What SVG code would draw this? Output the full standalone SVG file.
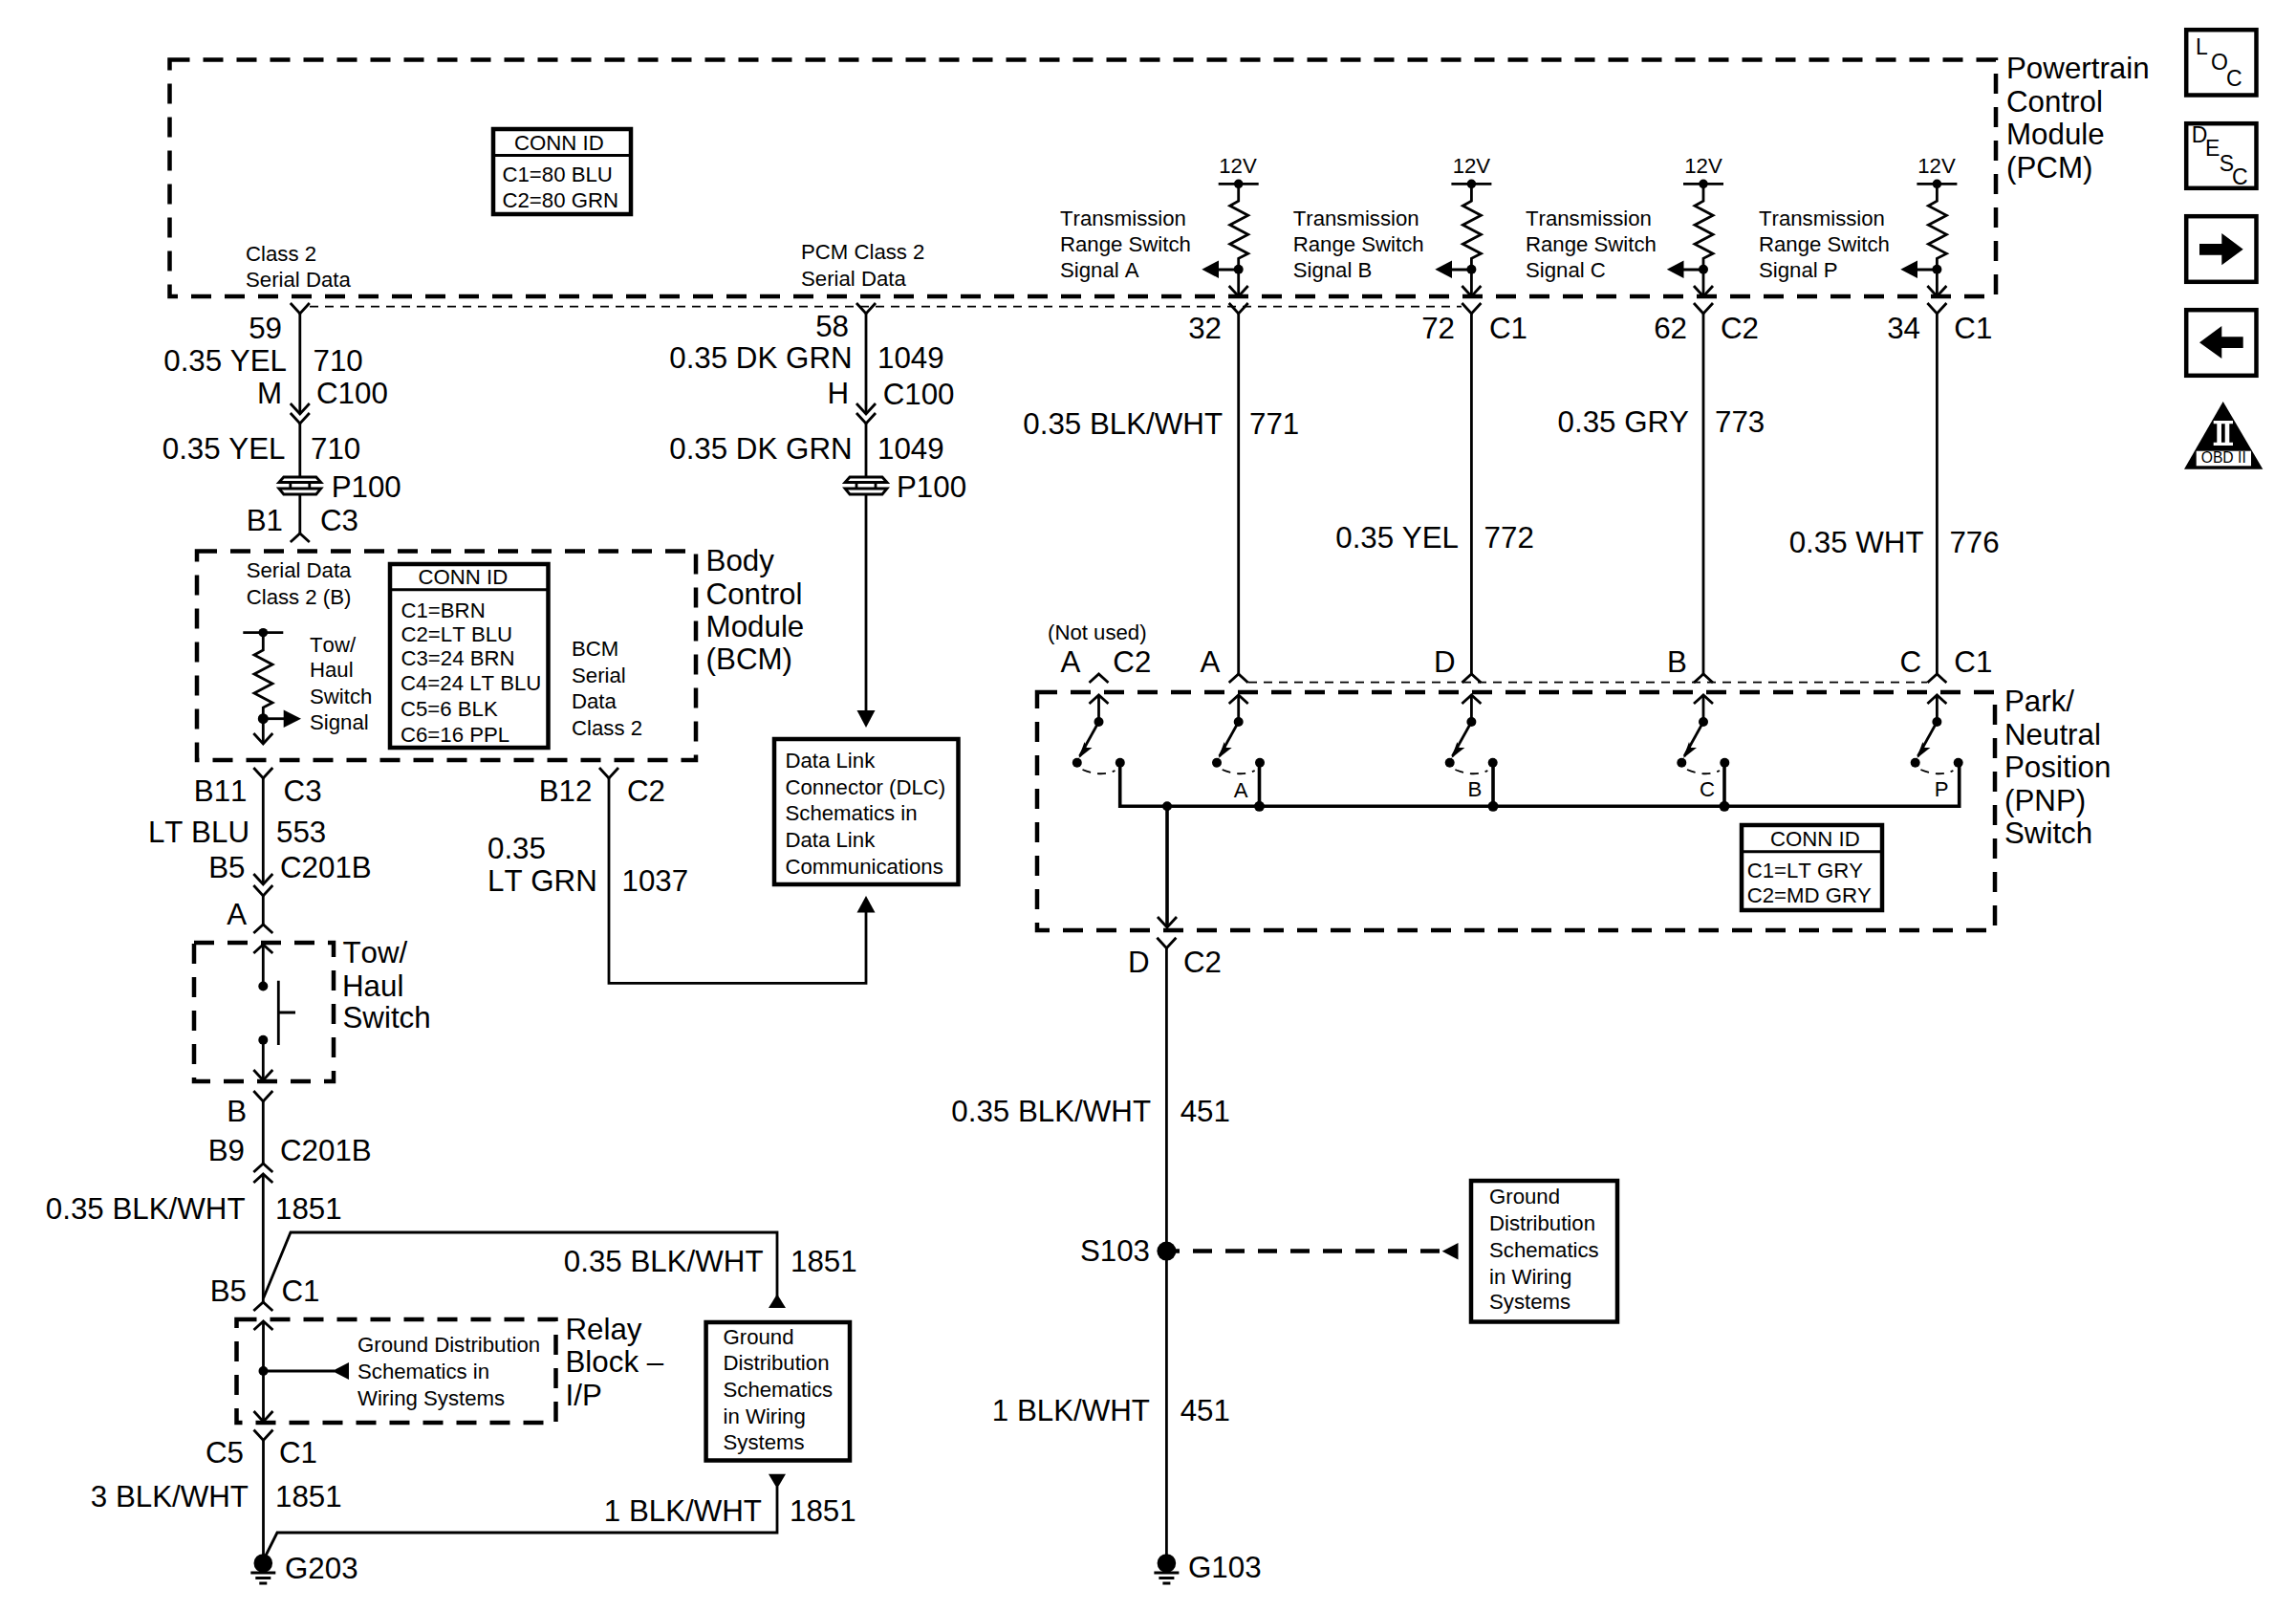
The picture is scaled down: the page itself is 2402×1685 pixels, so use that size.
<svg xmlns="http://www.w3.org/2000/svg" xmlns:xlink="http://www.w3.org/1999/xlink" width="2402" height="1685" viewBox="0 0 2402 1685">
<style>
text{font-family:"Liberation Sans",Arial,sans-serif;fill:#000;font-kerning:none}
.s{font-size:22.2px}
.l{font-size:31.3px}
.e{text-anchor:end}
.m{text-anchor:middle}
.mod{fill:none;stroke:#000;stroke-width:4.5;stroke-dasharray:21 14}
.box{fill:#fff;stroke:#000;stroke-width:4.5}
.sep{fill:none;stroke:#000;stroke-width:3}
.w{fill:none;stroke:#000;stroke-width:2.8;stroke-linejoin:miter}
.b{fill:none;stroke:#000;stroke-width:3.6}
.d{fill:none;stroke:#000;stroke-width:1.8;stroke-dasharray:9 7}
.a{fill:#000;stroke:none}
</style>
<defs>
<path id="v" class="w" d="M-10 -11 L0 0 L10 -11"/>
<path id="u" class="w" d="M-10 9 L0 0 L10 9"/>
<path id="zig" class="w" d="M0 0 V18 L-9 23 L10 33 L-9 43 L10 53 L-9 63 L10 73 L0 78 V90"/>
<g id="rail"><path class="w" d="M-21 0 H21"/><circle class="a" r="4.8"/></g>
<g id="p100"><path class="w" d="M-17 0 H17 L22 5.5 H-22 Z"/><path class="w" d="M-22 12 H22 L17 18 H-17 Z"/><path class="w" d="M-10 6 V12 M10 6 V12"/></g>
<g id="gnd"><circle class="a" r="9.8"/><path class="w" stroke-width="2" d="M-13 10 H13 M-8 15.5 H8 M-4 21 H4"/></g>
<g id="sw">
<circle class="a" cy="0" r="5"/>
<path class="w" d="M0 0 L-20 36"/>
<path class="a" d="M-21 38 L-15 21 L-13 27 L-7 27 Z"/>
<circle class="a" cx="-22.7" cy="42.7" r="5"/>
<circle class="a" cx="22.3" cy="42.7" r="5"/>
<path class="d" stroke-width="1.6" stroke-dasharray="6 5" d="M-17 50 Q2 58 17 51"/>
</g>
</defs>

<g id="connectors">
<path class="w" d="M313.8 328 V433"/><use xlink:href="#v" x="313.8" y="328"/><use xlink:href="#v" x="313.8" y="433"/><use xlink:href="#v" x="313.8" y="443"/>
<path class="w" d="M313.8 443 V499 M313.8 517 V558"/><use xlink:href="#u" x="313.8" y="558"/>
<path class="w" d="M906 328 V433"/><use xlink:href="#v" x="906" y="328"/><use xlink:href="#v" x="906" y="433"/><use xlink:href="#v" x="906" y="443"/>
<path class="w" d="M906 443 V499 M906 517 V745"/>
<path class="a" d="M896.5 743 H915.5 L906 761 Z"/>
<path class="d" d="M324 320.7 H1529"/>
<path class="d" d="M1306 713.6 H2016"/>
<path class="w" d="M1295.7 328 V705"/><use xlink:href="#v" x="1295.7" y="328"/><use xlink:href="#u" x="1295.7" y="705"/>
<path class="w" d="M1539.4 328 V705"/><use xlink:href="#v" x="1539.4" y="328"/><use xlink:href="#u" x="1539.4" y="705"/>
<path class="w" d="M1782 328 V705"/><use xlink:href="#v" x="1782" y="328"/><use xlink:href="#u" x="1782" y="705"/>
<path class="w" d="M2026.4 328 V705"/><use xlink:href="#v" x="2026.4" y="328"/><use xlink:href="#u" x="2026.4" y="705"/>
<use xlink:href="#u" x="1149.5" y="705"/>
<path class="w" d="M275.3 814 V925"/><use xlink:href="#v" x="275.3" y="814"/><use xlink:href="#v" x="275.3" y="925"/><use xlink:href="#v" x="275.3" y="937"/>
<path class="w" d="M275.3 937 V967"/><use xlink:href="#u" x="275.3" y="967"/>
<path class="w" d="M637 814 V1028.4 H906 V952"/><use xlink:href="#v" x="637" y="814"/>
<path class="a" d="M896.5 954.5 H915.5 L906 937 Z"/>
<path class="w" d="M275.3 1152 V1217"/><use xlink:href="#v" x="275.3" y="1152"/><use xlink:href="#u" x="275.3" y="1217"/><use xlink:href="#u" x="275.3" y="1228"/>
<path class="w" d="M275.3 1228 V1362"/><use xlink:href="#u" x="275.3" y="1362"/>
<path class="w" d="M275.5 1358 L304 1289 H813 V1356"/>
<path class="a" d="M804 1368 H822 L813 1353.5 Z"/>
<path class="w" d="M275.5 1506.5 V1630"/><use xlink:href="#v" x="275.5" y="1506.5"/>
<path class="w" d="M813 1555 V1603 H290 L276 1631"/>
<path class="a" d="M804 1541.7 H822 L813 1557 Z"/>
<path class="w" d="M1220.4 991.7 V1630"/><use xlink:href="#v" x="1220.4" y="991.7"/>
<path d="M1220 1308.6 H1234 M1248 1308.6 H1508" fill="none" stroke="#000" stroke-width="4.5" stroke-dasharray="20 14"/>
<path class="a" d="M1525.5 1300 V1317.5 L1508.7 1308.7 Z"/>
</g>

<g id="pcm">
<rect class="mod" x="177.5" y="62.5" width="1910.5" height="247.5"/>
<text class="l" x="2099" y="82">Powertrain</text><text class="l" x="2099" y="116.5">Control</text><text class="l" x="2099" y="151">Module</text><text class="l" x="2099" y="185.5">(PCM)</text>
<text class="s" x="257" y="272.5">Class 2</text><text class="s" x="257" y="300.4">Serial Data</text>
<text class="s" x="838" y="271">PCM Class 2</text><text class="s" x="838" y="298.5">Serial Data</text>
<g id="pcm-signal-a"><use xlink:href="#rail" x="1295.7" y="192.3"/><use xlink:href="#zig" x="1295.7" y="192.3"/><text class="s m" x="1295" y="180.7">12V</text>
<circle class="a" cx="1295.7" cy="281.7" r="5"/><path class="w" d="M1295.7 282 V310 M1295.7 282 H1272"/><path class="a" d="M1275 272.5 V291 L1257.3 281.7 Z"/><use xlink:href="#v" x="1295.7" y="310"/>
<text class="s" x="1109" y="236">Transmission</text><text class="s" x="1109" y="263">Range Switch</text><text class="s" x="1109" y="290">Signal A</text></g>
<g id="pcm-signal-b"><use xlink:href="#rail" x="1539.4" y="192.3"/><use xlink:href="#zig" x="1539.4" y="192.3"/><text class="s m" x="1539.4" y="180.7">12V</text>
<circle class="a" cx="1539.4" cy="281.7" r="5"/><path class="w" d="M1539.4 282 V310 M1539.4 282 H1516"/><path class="a" d="M1519 272.5 V291 L1501.3 281.7 Z"/><use xlink:href="#v" x="1539.4" y="310"/>
<text class="s" x="1352.7" y="236">Transmission</text><text class="s" x="1352.7" y="263">Range Switch</text><text class="s" x="1352.7" y="290">Signal B</text></g>
<g id="pcm-signal-c"><use xlink:href="#rail" x="1782" y="192.3"/><use xlink:href="#zig" x="1782" y="192.3"/><text class="s m" x="1782" y="180.7">12V</text>
<circle class="a" cx="1782" cy="281.7" r="5"/><path class="w" d="M1782 282 V310 M1782 282 H1758"/><path class="a" d="M1761.5 272.5 V291 L1743.8 281.7 Z"/><use xlink:href="#v" x="1782" y="310"/>
<text class="s" x="1596" y="236">Transmission</text><text class="s" x="1596" y="263">Range Switch</text><text class="s" x="1596" y="290">Signal C</text></g>
<g id="pcm-signal-p"><use xlink:href="#rail" x="2026.4" y="192.3"/><use xlink:href="#zig" x="2026.4" y="192.3"/><text class="s m" x="2026" y="180.7">12V</text>
<circle class="a" cx="2026.4" cy="281.7" r="5"/><path class="w" d="M2026.4 282 V310 M2026.4 282 H2003"/><path class="a" d="M2006 272.5 V291 L1988.3 281.7 Z"/><use xlink:href="#v" x="2026.4" y="310"/>
<text class="s" x="1840" y="236">Transmission</text><text class="s" x="1840" y="263">Range Switch</text><text class="s" x="1840" y="290">Signal P</text></g>
</g>

<g id="pcm-conn-id">
<rect class="box" x="516" y="135" width="144" height="89"/><path class="sep" d="M516 162.6 H660"/>
<text class="s" x="538" y="157">CONN ID</text><text class="s" x="525.5" y="190">C1=80 BLU</text><text class="s" x="525.5" y="217">C2=80 GRN</text>
</g>

<g id="wire-labels">
<text class="l e" x="295" y="354">59</text><text class="l e" x="300" y="388">0.35 YEL</text><text class="l" x="327.5" y="388">710</text>
<text class="l e" x="295" y="421.7">M</text><text class="l" x="331" y="421.7">C100</text>
<text class="l e" x="298.5" y="480">0.35 YEL</text><text class="l" x="325" y="480">710</text>
<text class="l" x="346.7" y="519.5">P100</text>
<text class="l e" x="296" y="555">B1</text><text class="l" x="335" y="555">C3</text>
<text class="l e" x="888" y="352">58</text><text class="l e" x="891.6" y="385">0.35 DK GRN</text><text class="l" x="918" y="385">1049</text>
<text class="l e" x="888" y="421.7">H</text><text class="l" x="923.7" y="422.5">C100</text>
<text class="l e" x="891.6" y="479.5">0.35 DK GRN</text><text class="l" x="918" y="479.5">1049</text>
<text class="l" x="938" y="519.5">P100</text>
<text class="l e" x="1278" y="354">32</text>
<text class="l e" x="1522" y="354">72</text><text class="l" x="1558" y="354">C1</text>
<text class="l e" x="1765" y="354">62</text><text class="l" x="1800" y="354">C2</text>
<text class="l e" x="2009" y="354">34</text><text class="l" x="2044.3" y="354">C1</text>
<text class="l e" x="1279" y="453.5">0.35 BLK/WHT</text><text class="l" x="1307" y="453.5">771</text>
<text class="l e" x="1767" y="452">0.35 GRY</text><text class="l" x="1794" y="452">773</text>
<text class="l e" x="1526" y="573">0.35 YEL</text><text class="l" x="1552.6" y="573">772</text>
<text class="l e" x="2012.6" y="578">0.35 WHT</text><text class="l" x="2039.4" y="578">776</text>
<text class="s" x="1096" y="669">(Not used)</text>
<text class="l" x="1109.6" y="703">A</text><text class="l" x="1164.3" y="703">C2</text><text class="l" x="1255.5" y="703">A</text>
<text class="l" x="1500" y="703">D</text><text class="l" x="1744" y="703">B</text><text class="l" x="1987.5" y="703">C</text><text class="l" x="2044.3" y="703">C1</text>
<text class="l e" x="258.5" y="838">B11</text><text class="l" x="296.6" y="838">C3</text>
<text class="l e" x="261" y="881">LT BLU</text><text class="l" x="289" y="881">553</text>
<text class="l e" x="256.5" y="918">B5</text><text class="l" x="293" y="918">C201B</text>
<text class="l e" x="258" y="967">A</text>
<text class="l e" x="619.4" y="838">B12</text><text class="l" x="656" y="838">C2</text>
<text class="l" x="510" y="897.5">0.35</text><text class="l" x="510" y="931.5">LT GRN</text><text class="l" x="650.5" y="932">1037</text>
<text class="l e" x="258" y="1172.5">B</text>
<text class="l e" x="256" y="1214">B9</text><text class="l" x="293" y="1214">C201B</text>
<text class="l e" x="256.5" y="1274.5">0.35 BLK/WHT</text><text class="l" x="288" y="1274.5">1851</text>
<text class="l e" x="798.5" y="1330">0.35 BLK/WHT</text><text class="l" x="827" y="1330">1851</text>
<text class="l e" x="258" y="1360.5">B5</text><text class="l" x="294.5" y="1360.5">C1</text>
<text class="l e" x="255" y="1529.5">C5</text><text class="l" x="292" y="1529.5">C1</text>
<text class="l e" x="260" y="1575.5">3 BLK/WHT</text><text class="l" x="288" y="1575.5">1851</text>
<text class="l e" x="797" y="1590.5">1 BLK/WHT</text><text class="l" x="826" y="1590.5">1851</text>
<text class="l e" x="1202.5" y="1016.5">D</text><text class="l" x="1238" y="1016.5">C2</text>
<text class="l e" x="1204" y="1172.5">0.35 BLK/WHT</text><text class="l" x="1234.7" y="1172.5">451</text>
<text class="l e" x="1203" y="1485.5">1 BLK/WHT</text><text class="l" x="1234.7" y="1485.5">451</text>
</g>

<g id="p100-left"><use xlink:href="#p100" x="313.8" y="499"/></g>
<g id="p100-right"><use xlink:href="#p100" x="906" y="499"/></g>

<g id="bcm">
<rect class="mod" x="206" y="576.5" width="522" height="218.5"/>
<text class="l" x="738.6" y="597">Body</text><text class="l" x="738.6" y="631.5">Control</text><text class="l" x="738.6" y="666">Module</text><text class="l" x="738.6" y="700">(BCM)</text>
<text class="s" x="257.7" y="604">Serial Data</text><text class="s" x="257.7" y="631.7">Class 2 (B)</text>
<use xlink:href="#rail" x="275.3" y="661.7"/>
<path class="w" d="M275.3 661.7 V680 L266 685 L285 695 L266 705 L285 715 L266 725 L285 735 L275.3 740 V778"/>
<circle class="a" cx="275.3" cy="751.7" r="5.5"/><path class="w" d="M275.3 751.7 H298"/><path class="a" d="M296.7 742.5 V761 L315 751.7 Z"/><use xlink:href="#v" x="275.3" y="778"/>
<text class="s" x="324" y="681.7">Tow/</text><text class="s" x="324" y="708">Haul</text><text class="s" x="324" y="736">Switch</text><text class="s" x="324" y="763">Signal</text>
<text class="s" x="598" y="686">BCM</text><text class="s" x="598" y="714">Serial</text><text class="s" x="598" y="741">Data</text><text class="s" x="598" y="769">Class 2</text>
</g>

<g id="bcm-conn-id">
<rect class="box" x="408" y="590" width="165.5" height="192"/><path class="sep" d="M408 616.7 H573.5"/>
<text class="s" x="437.5" y="610.7">CONN ID</text>
<text class="s" x="419.5" y="646">C1=BRN</text><text class="s" x="419.5" y="671">C2=LT BLU</text><text class="s" x="419.5" y="696">C3=24 BRN</text><text class="s" x="419" y="721.7">C4=24 LT BLU</text><text class="s" x="419" y="748.7">C5=6 BLK</text><text class="s" x="419" y="776">C6=16 PPL</text>
</g>

<g id="dlc">
<rect class="box" x="810" y="773" width="192.5" height="152"/>
<text class="s" x="821.5" y="803">Data Link</text><text class="s" x="821.5" y="831">Connector (DLC)</text><text class="s" x="821.5" y="858">Schematics in</text><text class="s" x="821.5" y="886">Data Link</text><text class="s" x="821.5" y="913.5">Communications</text>
</g>

<g id="tow-haul-switch">
<rect class="mod" x="203" y="986" width="146" height="145"/>
<path class="w" d="M275.3 988 V1031.5"/><use xlink:href="#u" x="275.3" y="988"/><circle class="a" cx="275.3" cy="1031.5" r="5"/>
<path class="w" d="M291.3 1025.7 V1093 M291.3 1059 H309"/>
<circle class="a" cx="275.3" cy="1087.7" r="5"/><path class="w" d="M275.3 1087.7 V1130"/><use xlink:href="#v" x="275.3" y="1130"/>
<text class="l" x="358.5" y="1007">Tow/</text><text class="l" x="358" y="1041.8">Haul</text><text class="l" x="358.5" y="1075">Switch</text>
</g>

<g id="relay-block">
<rect class="mod" x="247.5" y="1380" width="334" height="108"/>
<path class="w" d="M275.5 1382 V1487 M275.5 1434 H350"/><use xlink:href="#u" x="275.5" y="1382"/><use xlink:href="#v" x="275.5" y="1487"/>
<circle class="a" cx="275.5" cy="1434" r="5"/><path class="a" d="M365 1425 V1443 L347.6 1434 Z"/>
<text class="s" x="374" y="1414.4">Ground Distribution</text><text class="s" x="374" y="1442.4">Schematics in</text><text class="s" x="374" y="1470">Wiring Systems</text>
<text class="l" x="591.5" y="1401">Relay</text><text class="l" x="591.5" y="1435">Block –</text><text class="l" x="591.5" y="1469.5">I/P</text>
</g>

<g id="ground-dist-left">
<rect class="box" x="738.6" y="1383" width="150.4" height="144.5"/>
<text class="s" x="756.5" y="1406">Ground</text><text class="s" x="756.5" y="1433">Distribution</text><text class="s" x="756.5" y="1460.5">Schematics</text><text class="s" x="756.5" y="1488.5">in Wiring</text><text class="s" x="756.5" y="1515.7">Systems</text>
</g>

<g id="g203"><use xlink:href="#gnd" x="275.3" y="1635"/><text class="l" x="298" y="1650.5">G203</text></g>
<g id="g103"><use xlink:href="#gnd" x="1220.4" y="1635"/><text class="l" x="1243" y="1650">G103</text></g>
<g id="s103"><circle class="a" cx="1220.4" cy="1308.6" r="10"/><text class="l e" x="1203" y="1319">S103</text></g>

<g id="ground-dist-right">
<rect class="box" x="1539" y="1235" width="153" height="147.5"/>
<text class="s" x="1558" y="1259">Ground</text><text class="s" x="1558" y="1287">Distribution</text><text class="s" x="1558" y="1315">Schematics</text><text class="s" x="1558" y="1343">in Wiring</text><text class="s" x="1558" y="1369">Systems</text>
</g>

<g id="pnp">
<rect class="mod" x="1085" y="724" width="1002" height="249"/>
<text class="l" x="2097" y="744">Park/</text><text class="l" x="2097" y="778.5">Neutral</text><text class="l" x="2097" y="813">Position</text><text class="l" x="2097" y="847.5">(PNP)</text><text class="l" x="2097" y="882">Switch</text>
<path class="w" d="M1149.5 727 V755"/><use xlink:href="#u" x="1149.5" y="727"/><use xlink:href="#sw" x="1149.5" y="755"/>
<path class="w" d="M1295.7 727 V755"/><use xlink:href="#u" x="1295.7" y="727"/><use xlink:href="#sw" x="1295.7" y="755"/>
<path class="w" d="M1539.4 727 V755"/><use xlink:href="#u" x="1539.4" y="727"/><use xlink:href="#sw" x="1539.4" y="755"/>
<path class="w" d="M1782 727 V755"/><use xlink:href="#u" x="1782" y="727"/><use xlink:href="#sw" x="1782" y="755"/>
<path class="w" d="M2026.4 727 V755"/><use xlink:href="#u" x="2026.4" y="727"/><use xlink:href="#sw" x="2026.4" y="755"/>
<path class="b" d="M1171.7 798 V843.3 H2049.7 V798 M1317.5 798 V843.3 M1562 798 V843.3 M1804 798 V843.3 M1221 843.3 V969"/>
<use xlink:href="#v" x="1221" y="970"/>
<circle class="a" cx="1221" cy="843.3" r="5"/><circle class="a" cx="1317.5" cy="843.3" r="5.5"/><circle class="a" cx="1562" cy="843.3" r="5.5"/><circle class="a" cx="1804" cy="843.3" r="5.5"/>
<text class="s" x="1290.7" y="834">A</text><text class="s" x="1535.4" y="833">B</text><text class="s" x="1778" y="833">C</text><text class="s" x="2023.7" y="833">P</text>
</g>

<g id="pnp-conn-id">
<rect class="box" x="1822" y="863" width="147" height="89"/><path class="sep" d="M1822 890.7 H1969"/>
<text class="s" x="1852" y="885">CONN ID</text><text class="s" x="1827.7" y="918">C1=LT GRY</text><text class="s" x="1827.7" y="944">C2=MD GRY</text>
</g>

<g id="icon-loc"><rect class="box" x="2287.2" y="31.2" width="73.3" height="68.3"/><text style="font-size:23px" x="2297" y="56.7">L</text><text style="font-size:23px" x="2313" y="73.3">O</text><text style="font-size:23px" x="2329" y="90">C</text></g>
<g id="icon-desc"><rect class="box" x="2287.2" y="129.2" width="73.3" height="67.6"/><text style="font-size:23px" x="2292.7" y="149.3">D</text><text style="font-size:23px" x="2307" y="163">E</text><text style="font-size:23px" x="2321.7" y="179.3">S</text><text style="font-size:23px" x="2335" y="193.3">C</text></g>
<g id="icon-next"><rect class="box" x="2287.2" y="226.2" width="73.3" height="68.6"/><path class="a" d="M2301 255 H2324.3 V244 L2346.7 260.7 L2324.3 277.3 V266.7 H2301 Z"/></g>
<g id="icon-prev"><rect class="box" x="2287.2" y="324.2" width="73.3" height="68.6"/><path class="a" d="M2346.7 352.3 H2324.3 V341 L2301 358.3 L2324.3 375 V364 H2346.7 Z"/></g>
<g id="icon-obd">
<path class="a" d="M2325.7 420 L2367.3 490.7 H2285 Z"/>
<path fill="#fff" d="M2315.7 440 H2336 V443.3 H2315.7 Z M2319.3 443.3 H2324 V462.7 H2319.3 Z M2327.7 443.3 H2332.3 V462.7 H2327.7 Z M2315.7 462.7 H2336 V466 H2315.7 Z"/>
<rect x="2297.7" y="471.7" width="57.3" height="15.6" fill="#fff"/>
<text x="2302.7" y="484.3" style="font-size:15.7px">OBD II</text>
</g>
</svg>
